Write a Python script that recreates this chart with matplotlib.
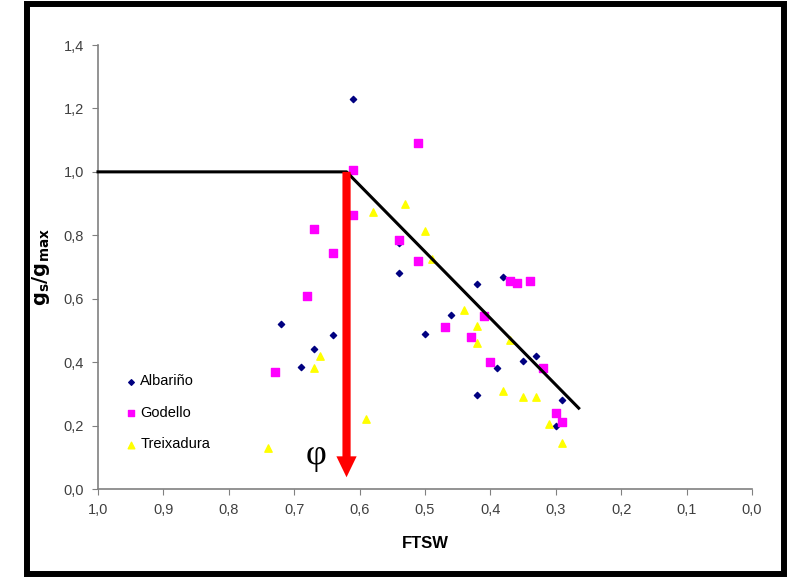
import matplotlib
matplotlib.use("Agg")
import matplotlib.pyplot as plt
from matplotlib.patches import Rectangle, FancyArrow

# ---- data ----
alb_x = [0.61, 0.72, 0.69, 0.67, 0.64, 0.54, 0.54, 0.50, 0.46, 0.42, 0.42, 0.38, 0.39, 0.35, 0.33, 0.29, 0.30]
alb_y = [1.23, 0.52, 0.385, 0.44, 0.487, 0.775, 0.68, 0.49, 0.55, 0.645, 0.295, 0.67, 0.38, 0.405, 0.42, 0.28, 0.20]

god_x = [0.73, 0.68, 0.67, 0.64, 0.61, 0.61, 0.54, 0.51, 0.51, 0.47, 0.43, 0.41, 0.40, 0.37, 0.36, 0.34, 0.32, 0.30, 0.29]
god_y = [0.37, 0.61, 0.82, 0.745, 1.005, 0.865, 0.785, 1.09, 0.72, 0.51, 0.48, 0.545, 0.40, 0.655, 0.65, 0.655, 0.38, 0.24, 0.21]

tre_x = [0.74, 0.67, 0.66, 0.59, 0.58, 0.53, 0.50, 0.49, 0.44, 0.42, 0.42, 0.37, 0.38, 0.35, 0.33, 0.31, 0.29]
tre_y = [0.13, 0.38, 0.42, 0.22, 0.875, 0.90, 0.815, 0.725, 0.565, 0.515, 0.46, 0.47, 0.31, 0.29, 0.29, 0.205, 0.145]

# segmented model: plateau then linear decline
fit_x = [1.0, 0.62, 0.265]
fit_y = [1.0, 1.0, 0.255]
phi = 0.62

plt.rcParams['font.family'] = ['Liberation Sans', 'DejaVu Sans']

fig = plt.figure(figsize=(7.98, 5.77), dpi=100)
ax = fig.add_axes([0.1228, 0.1525, 0.8196, 0.7695])

ax.scatter(alb_x, alb_y, marker='D', s=10, color='#000080', label='Albariño', zorder=3)
ax.scatter(god_x, god_y, marker='s', s=28, color='#FF00FF', label='Godello', zorder=3)
ax.scatter(tre_x, tre_y, marker='^', s=28, color='#FFFF00', label='Treixadura', zorder=3)

ax.plot(fit_x, fit_y, color='black', lw=2.2, zorder=4, clip_on=False)

# red arrow marking the breakpoint
ax.add_patch(FancyArrow(phi, 1.0, 0, -0.963, width=0.0125, head_width=0.031,
                        head_length=0.066, length_includes_head=True,
                        color='#FF0000', lw=0, zorder=5))
ax.text(0.667, 0.105, 'φ', family=['Liberation Serif', 'DejaVu Serif'],
        fontsize=26, ha='center', va='center')

ax.set_xlim(1.0, 0.0)
ax.set_ylim(0.0, 1.4)
xt = [1.0, 0.9, 0.8, 0.7, 0.6, 0.5, 0.4, 0.3, 0.2, 0.1, 0.0]
yt = [0.0, 0.2, 0.4, 0.6, 0.8, 1.0, 1.2, 1.4]
ax.set_xticks(xt)
ax.set_xticklabels([f'{v:.1f}'.replace('.', ',') for v in xt])
ax.set_yticks(yt)
ax.set_yticklabels([f'{v:.1f}'.replace('.', ',') for v in yt])
ax.tick_params(direction='out', length=4, color='#808080', labelcolor='#404040',
               labelsize=10.5, pad=6)
for s in ['top', 'right']:
    ax.spines[s].set_visible(False)
for s in ['left', 'bottom']:
    ax.spines[s].set_color('#808080')
    ax.spines[s].set_linewidth(1.2)

ax.set_xlabel('FTSW', fontsize=12, fontweight='bold', labelpad=14)
ax.set_ylabel(r'$\mathbf{g_s/g_{max}}$', fontsize=14, labelpad=8)

ax.legend(loc='lower left', bbox_to_anchor=(0.02, 0.055), frameon=False,
          fontsize=10.5, handletextpad=0.1, labelspacing=1.2,
          handlelength=1.0, markerscale=0.9)

# heavy outer frame
fig.patches.append(Rectangle((27 / 798, 3 / 577), 757 / 798, 570 / 577,
                             transform=fig.transFigure, fill=False,
                             edgecolor='black', lw=4.3))

fig.savefig('out.png', dpi=100)
